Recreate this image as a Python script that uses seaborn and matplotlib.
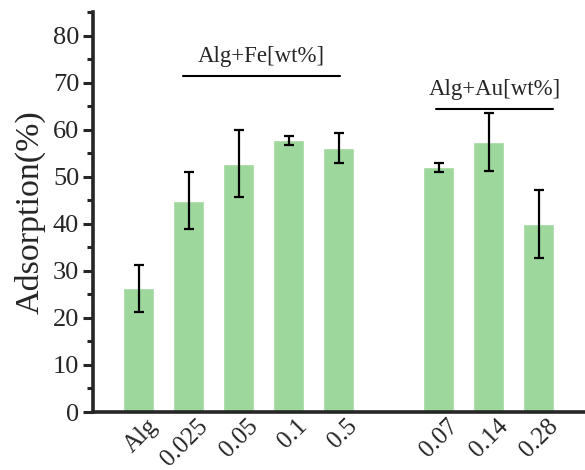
import pandas as pd
import matplotlib.pyplot as plt
import matplotlib.transforms as mtransforms
import seaborn as sns
from matplotlib.ticker import MultipleLocator

# Adsorption data
samples = ["Alg", "0.025", "0.05", "0.1", "0.5", "0.07", "0.14", "0.28"]
adsorption = [26.3, 44.9, 52.8, 57.7, 56.1, 52.0, 57.4, 39.9]
errors = [5.0, 6.1, 7.2, 1.0, 3.1, 0.9, 6.2, 7.2]

# blank slot between the Fe and Au groups
order = samples[:5] + [" "] + samples[5:]

df = pd.DataFrame({"Sample": samples, "Adsorption": adsorption, "Err": errors})

sns.set_style("ticks")
plt.rcParams["font.family"] = ["Liberation Serif", "DejaVu Serif"]

fig = plt.figure(figsize=(5.85, 4.7), dpi=100)
ax = fig.add_axes([0.159, 0.1234, 0.841, 0.851])

sns.barplot(data=df, x="Sample", y="Adsorption", order=order, color="#9dd79b",
            saturation=1, width=0.62, errorbar=None, ax=ax)

pos = [order.index(s) for s in samples]
ax.errorbar(pos, df["Adsorption"], yerr=df["Err"], fmt="none", ecolor="black",
            elinewidth=1.6, capsize=3.5, capthick=1.6)

ax.set_xlim(-0.91, 8.93)
ax.set_ylim(0, 85)
ax.yaxis.set_major_locator(MultipleLocator(10))
ax.yaxis.set_minor_locator(MultipleLocator(5))
ax.set_xlabel("")
ax.set_ylabel("Adsorption(%)", fontsize=24.5, labelpad=5)
ax.tick_params(axis="y", which="major", labelsize=19, length=7, width=2.2, pad=3)
ax.tick_params(axis="y", which="minor", length=4, width=2.2)
ax.tick_params(axis="x", length=0, labelsize=18, pad=2)
ax.set_xticks(range(len(order)))
ax.set_xticklabels(order, rotation=45, ha="right", rotation_mode="anchor")
shift = mtransforms.ScaledTranslation(8 / 100, 0, fig.dpi_scale_trans)
for tl in ax.get_xticklabels():
    tl.set_transform(tl.get_transform() + shift)
for sp in ["left", "bottom"]:
    ax.spines[sp].set_linewidth(2.6)
sns.despine(ax=ax)

# group annotations
ax.plot([0.89, 4.03], [71.5, 71.5], color="black", lw=1.5, clip_on=False)
ax.text(2.46, 73.4, "Alg+Fe[wt%]", ha="center", va="bottom", fontsize=16.5)
ax.plot([5.95, 8.29], [64.3, 64.3], color="black", lw=1.5, clip_on=False)
ax.text(7.12, 66.2, "Alg+Au[wt%]", ha="center", va="bottom", fontsize=16.5)

fig.savefig("out.png", dpi=100)
